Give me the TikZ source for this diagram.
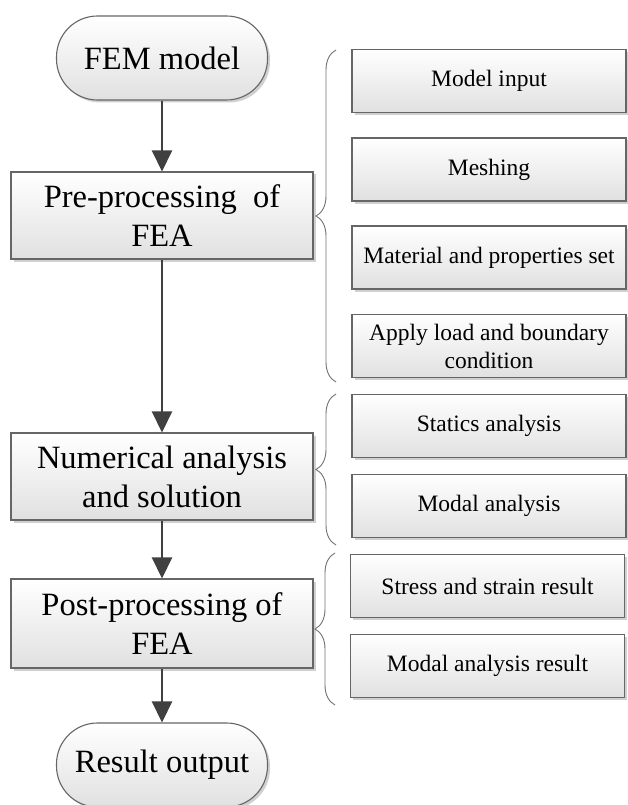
\documentclass[tikz,border=0pt]{standalone}
\usepackage{fontspec}
\setmainfont{Liberation Serif}
\usetikzlibrary{shadows,decorations.pathreplacing,arrows.meta}
\begin{document}
\begin{tikzpicture}[x=1pt,y=1pt,
  boxbase/.style={draw=black!60, line width=1.1pt, top color=white, bottom color=black!12,
    drop shadow={shadow xshift=2.5pt, shadow yshift=-2.5pt, fill=black!30, opacity=0.6},
    align=center, inner sep=0pt},
  mainbox/.style={boxbase, minimum width=302pt, minimum height=87pt,
    font=\fontsize{32.5}{39}\selectfont},
  termbox/.style={boxbase, rounded corners=41pt, minimum width=211pt, minimum height=84pt,
    font=\fontsize{32.5}{39}\selectfont},
  subbox/.style={boxbase, minimum width=274pt, minimum height=63pt,
    font=\fontsize{23.5}{28}\selectfont},
  flow/.style={draw=black!75, line width=2.5pt, -{Triangle[width=20pt,length=21pt]}},
  bracket/.style={draw=black!55, line width=0.9pt, decorate,
    decoration={brace, amplitude=20pt}}
]
\useasboundingbox (0,0) rectangle (628,-805);
\fill[white] (0,0) rectangle (628,-805);

\node[termbox] (fem) at (162,-58) {FEM model};
\node[mainbox] (pre) at (162,-215.5) {Pre-processing~ of\\FEA};
\node[mainbox] (num) at (162,-476.5) {Numerical analysis\\and solution};
\node[mainbox, minimum height=89pt] (post) at (162,-623.5) {Post-processing of\\FEA};
\node[termbox] (res) at (162,-765) {Result output};

\node[subbox] (s1) at (489,-81) {Model input};
\node[subbox] (s2) at (489,-169.5) {Meshing};
\node[subbox] (s3) at (489,-257.5) {Material and properties set};
\node[subbox] (s4) at (489,-346) {Apply load and boundary\\condition};
\node[subbox] (s5) at (489,-426) {Statics analysis};
\node[subbox] (s6) at (489,-506) {Modal analysis};
\node[subbox] (s7) at (487.5,-586) {Stress and strain result};
\node[subbox] (s8) at (487.5,-666) {Modal analysis result};

\draw[flow] (fem) -- (pre);
\draw[flow] (pre) -- (num);
\draw[flow] (num) -- (post);
\draw[flow] (post) -- (res);

\coordinate (b1t) at (336,-50);
\coordinate (b1b) at (336,-382);
\coordinate (b2t) at (336,-394);
\coordinate (b2b) at (336,-545);
\coordinate (b3t) at (335,-553);
\coordinate (b3b) at (335,-705);
\draw[bracket] (b1b) -- (b1t);
\draw[bracket] (b2b) -- (b2t);
\draw[bracket] (b3b) -- (b3t);
\end{tikzpicture}
\end{document}
